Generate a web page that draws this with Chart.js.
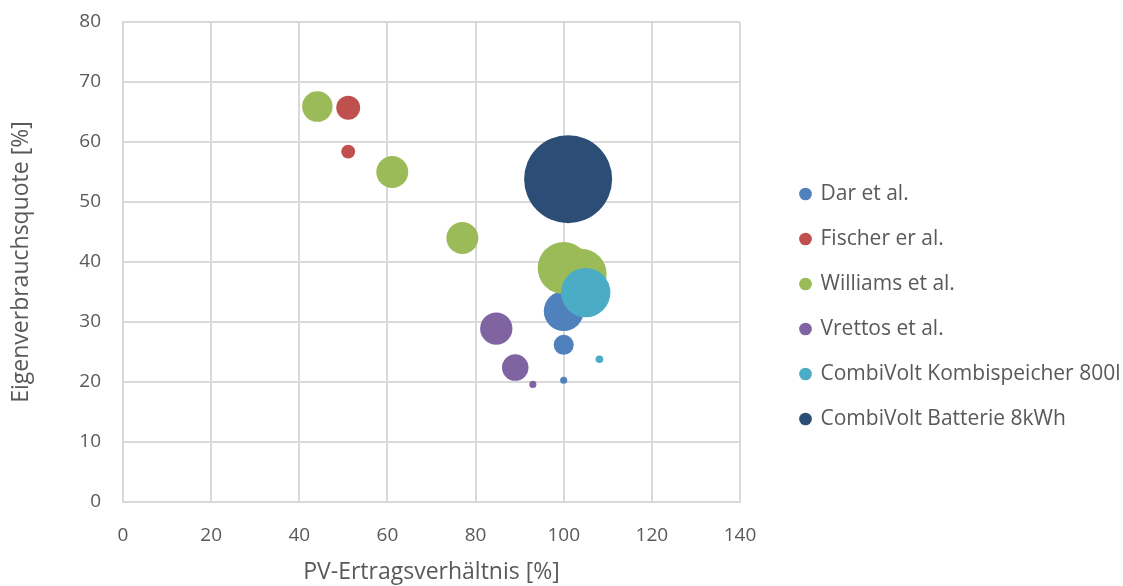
<!DOCTYPE html>
<html>
<head>
<meta charset="utf-8">
<script src="https://cdn.jsdelivr.net/npm/chart.js@4.4.1/dist/chart.umd.min.js"></script>
<style>
  html, body { margin: 0; padding: 0; background: #fff; }
  #wrap { width: 1123px; height: 586px; }
</style>
</head>
<body>
<div id="wrap"><canvas id="chart"></canvas></div>
<script>
// series names and colours
const seriesNames = ["Dar et al.", "Fischer er al.", "Williams et al.", "Vrettos et al.", "CombiVolt Kombispeicher 800l", "CombiVolt Batterie 8kWh"];
const seriesColors = ["#4F81BD", "#C0504D", "#9BBB59", "#8064A2", "#4BACC6", "#2C4D75"];

// x = PV-Ertragsverhältnis, y = Eigenverbrauchsquote, s = bubble size
const darX = [100, 100, 100];
const darY = [31.8, 26.2, 20.3];
const darS = [20.5, 5.2, 0.65];

const fischerX = [51.1, 51.1];
const fischerY = [65.7, 58.4];
const fischerS = [7.4, 2.5];

const williamsX = [44.1, 61.1, 77, 100, 104];
const williamsY = [65.9, 55, 44, 39, 38];
const williamsS = [12, 13.2, 13.2, 35, 33];

const vrettosX = [84.7, 89, 93];
const vrettosY = [28.9, 22.4, 19.6];
const vrettosS = [13.5, 9.1, 0.65];

const kombiX = [105, 108.1];
const kombiY = [34.9, 23.8];
const kombiS = [31.5, 0.75];

const batterieX = [101];
const batterieY = [53.8];
const batterieS = [100];

const xTicks = [0, 20, 40, 60, 80, 100, 120, 140];
const yTicks = [0, 10, 20, 30, 40, 50, 60, 70, 80];

const allX = [darX, fischerX, williamsX, vrettosX, kombiX, batterieX];
const allY = [darY, fischerY, williamsY, vrettosY, kombiY, batterieY];
const allS = [darS, fischerS, williamsS, vrettosS, kombiS, batterieS];

// bubble area proportional to size
const rScale = 4.4;

const textColor = "#595959";
const gridColor = "#d9d9d9";
const fontFamily = "'Open Sans', sans-serif";

const datasets = seriesNames.map((name, i) => ({
  label: name,
  data: allX[i].map((x, j) => ({ x: x, y: allY[i][j], r: rScale * Math.sqrt(allS[i][j]) })),
  backgroundColor: seriesColors[i],
  borderColor: seriesColors[i],
  borderWidth: 0,
  hoverBorderWidth: 0,
  order: seriesNames.length - i
}));

new Chart(document.getElementById("chart"), {
  type: "bubble",
  data: { datasets: datasets },
  options: {
    responsive: true,
    maintainAspectRatio: false,
    animation: false,
    layout: { autoPadding: false, padding: { top: 22, left: 0, right: 0, bottom: 0 } },
    plugins: {
      tooltip: { enabled: false },
      legend: {
        position: "right",
        align: "center",
        maxWidth: 346,
        title: { display: true, text: "", padding: 0, font: { size: 5, lineHeight: 1 } },
        labels: {
          usePointStyle: true,
          pointStyle: "circle",
          boxWidth: 9,
          boxHeight: 9,
          padding: 24,
          color: textColor,
          font: { family: fontFamily, size: 21 },
          sort: (a, b) => a.datasetIndex - b.datasetIndex
        }
      }
    },
    scales: {
      x: {
        type: "linear",
        min: 0,
        max: 140,
        afterBuildTicks: (axis) => { axis.ticks = xTicks.map(v => ({ value: v })); },
        afterFit: (axis) => { axis.height = 84; },
        grid: { color: gridColor, lineWidth: 2, drawTicks: false },
        border: { color: gridColor, width: 2 },
        ticks: { color: textColor, padding: 22, font: { family: fontFamily, size: 19 } },
        title: { display: true, text: "PV-Ertragsverhältnis [%]", color: textColor, padding: 0, font: { family: fontFamily, size: 23 } }
      },
      y: {
        type: "linear",
        min: 0,
        max: 80,
        afterBuildTicks: (axis) => { axis.ticks = yTicks.map(v => ({ value: v })); },
        afterFit: (axis) => { axis.width = 123; axis.paddingTop = 0; axis.paddingBottom = 0; },
        grid: { color: gridColor, lineWidth: 2, drawTicks: false },
        border: { color: gridColor, width: 2 },
        ticks: { color: textColor, padding: 22, font: { family: fontFamily, size: 19 } },
        title: { display: true, text: "Eigenverbrauchsquote [%]", color: textColor, padding: { top: 8, bottom: 0 }, font: { family: fontFamily, size: 23 } }
      },
      gap: {
        type: "linear",
        position: "right",
        min: 0,
        max: 80,
        display: true,
        grid: { display: false, drawTicks: false },
        border: { display: false },
        ticks: { display: false },
        afterFit: (axis) => { axis.width = 37; axis.paddingTop = 0; axis.paddingBottom = 0; }
      }
    }
  }
});
</script>
</body>
</html>
